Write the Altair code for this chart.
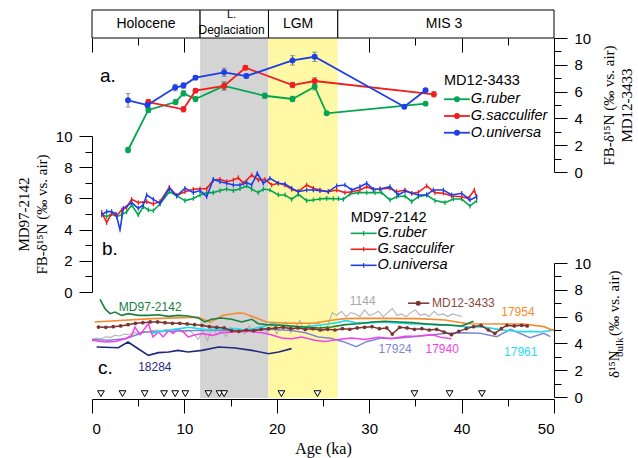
import altair as alt
import pandas as pd

# ---------------- data ----------------
PERIOD_NAME = ["Holocene", "LGM", "MIS 3"]
PERIOD_MID = [5.85, 22.3, 38.1]
DEGLAC_LINES = ["L.", "Deglaciation"]
DEGLAC_MID = 15.1
PERIOD_START = [0.0, 11.7, 19.1, 26.6]
PERIOD_END = [11.7, 19.1, 26.6, 50.0]

BAND_START = [11.7, 19.1]
BAND_END = [19.1, 26.6]
BAND_FILL = ["#D4D4D4", "#FFF9A6"]

# Panel a: MD12-3433 foraminifera-bound d15N
A_RUBER_AGE = [3.9, 6.1, 9.05, 9.9, 11.2, 14.3, 18.7, 21.7, 24.1, 25.4, 36.1]
A_RUBER_VAL = [1.64, 4.63, 5.22, 5.87, 5.45, 6.42, 5.69, 5.45, 6.37, 4.38, 5.10]
A_RUBER_ERR = [0.2, 0.2, 0.2, 0.2, 0.2, 0.3, 0.2, 0.2, 0.25, 0.1, 0.1]
A_SACC_AGE = [6.1, 9.9, 11.2, 14.3, 16.6, 21.7, 24.1, 37.0]
A_SACC_VAL = [5.22, 4.68, 6.07, 6.42, 7.78, 6.49, 6.79, 5.80]
A_SACC_ERR = [0.2, 0.2, 0.15, 0.3, 0.15, 0.2, 0.25, 0.2]
A_UNIV_AGE = [3.9, 6.0, 9.0, 9.9, 11.2, 14.3, 16.7, 21.7, 24.1, 33.8, 36.1]
A_UNIV_VAL = [5.35, 5.00, 6.30, 6.45, 7.04, 7.44, 7.16, 8.33, 8.60, 4.87, 6.10]
A_UNIV_ERR = [0.5, 0.2, 0.25, 0.2, 0.15, 0.3, 0.15, 0.35, 0.35, 0.1, 0.1]

# Panel b: MD97-2142 foraminifera-bound d15N
B_RUBER_AGE = [1.05, 1.59, 2.13, 2.67, 3.21, 3.75, 4.29, 5.01, 5.55, 6.10, 6.64, 7.36, 8.37, 9.16,
               10.06, 10.97, 11.69, 12.41, 13.13, 13.85, 14.57, 15.30, 16.02, 16.74, 17.28, 18.00,
               18.54, 19.26, 20.17, 20.89, 21.61, 22.33, 23.23, 23.95, 24.67, 25.40, 26.12, 26.66,
               27.20, 27.92, 28.82, 29.73, 30.63, 31.35, 32.25, 32.97, 33.88, 34.60, 35.32, 36.22,
               37.12, 38.20, 39.11, 40.01, 40.91, 41.63]
B_RUBER_VAL = [4.98, 4.83, 5.00, 4.83, 4.96, 5.13, 5.58, 4.94, 5.47, 5.26, 5.21, 5.64, 6.43, 6.18,
               5.86, 6.00, 6.22, 6.37, 6.37, 6.50, 6.60, 6.50, 6.62, 6.80, 6.60, 6.37,
               6.60, 6.54, 6.22, 6.22, 5.94, 6.26, 5.86, 5.90, 5.96, 6.00, 5.98, 5.98,
               5.94, 6.28, 6.37, 6.37, 6.37, 6.37, 5.90, 6.11, 6.15, 5.79, 6.11, 6.22,
               5.86, 5.73, 5.96, 5.96, 5.51, 5.86]
B_SACC_AGE = [1.05, 1.59, 2.13, 2.67, 3.21, 3.75, 4.29, 5.01, 5.92, 6.64, 7.36, 8.37, 9.16, 10.06,
              10.97, 11.69, 12.41, 13.13, 13.85, 14.57, 15.30, 15.84, 16.38, 17.28, 18.00, 18.72,
              19.44, 20.17, 20.89, 21.61, 22.33, 23.23, 23.95, 24.67, 25.58, 26.48, 27.38, 28.10,
              29.00, 29.73, 30.45, 31.17, 32.25, 32.97, 33.88, 34.60, 35.32, 36.22, 37.12, 38.03,
              38.93, 40.01, 40.73, 41.38, 41.63]
B_SACC_VAL = [5.11, 4.45, 5.04, 4.89, 5.26, 5.43, 5.94, 5.73, 5.79, 5.64, 5.79, 6.71, 6.18, 6.43,
              6.58, 6.62, 6.62, 7.18, 7.22, 7.07, 7.18, 7.33, 6.97, 7.50, 7.18, 7.22,
              6.86, 6.97, 6.86, 6.58, 6.43, 6.86, 6.65, 6.54, 6.43, 6.54, 6.37, 6.43,
              6.54, 6.75, 6.58, 6.60, 6.65, 6.43, 6.54, 6.33, 6.39, 6.80, 6.37, 6.33,
              6.15, 6.11, 6.00, 6.54, 6.07]
B_UNIV_AGE = [1.05, 1.59, 2.13, 2.60, 3.03, 3.39, 4.29, 5.01, 5.55, 5.92, 6.64, 7.36, 8.37, 9.16,
              10.06, 10.97, 11.69, 12.41, 13.13, 13.85, 14.57, 15.30, 16.02, 16.74, 17.28, 17.89,
              18.54, 19.26, 20.17, 20.89, 21.61, 22.33, 23.23, 23.95, 24.67, 25.58, 26.48, 27.38,
              28.10, 29.00, 29.73, 30.45, 31.17, 32.25, 33.15, 33.88, 34.60, 35.32, 36.22, 36.94,
              38.03, 38.93, 40.01, 40.91, 41.63]
B_UNIV_VAL = [4.94, 5.15, 5.15, 5.00, 3.98, 5.36, 5.73, 5.36, 5.58, 6.22, 5.94, 5.68, 6.65, 6.15,
              6.65, 6.37, 6.50, 6.11, 7.22, 7.07, 6.97, 6.86, 6.86, 7.01, 6.86, 7.61,
              6.97, 7.29, 6.97, 6.92, 6.65, 6.43, 6.54, 6.54, 6.50, 6.43, 6.80, 6.86,
              6.54, 6.75, 6.97, 6.58, 6.60, 6.75, 6.22, 6.47, 6.33, 6.22, 6.22, 6.54,
              6.54, 6.22, 6.33, 5.90, 6.11]

# Panel c: bulk sediment d15N records
C_1144_AGE = [0.0, 0.5, 1.0, 1.5, 2.0, 2.5, 3.0, 3.5, 4.0, 4.5, 5.0, 5.5, 6.0, 6.5, 7.0,
              7.5, 8.0, 8.5, 9.0, 9.5, 10.0, 10.5, 11.0, 11.5, 12.0, 12.5, 13.0, 13.5, 14.0,
              14.5, 15.0, 15.5, 16.0, 16.5, 17.0, 17.5, 18.0, 18.5, 19.0, 19.5, 20.0, 20.5,
              21.0, 21.5, 22.0, 22.5, 23.0, 23.5, 24.0, 24.5, 25.0, 25.5, 26.0, 26.5, 27.0,
              27.5, 28.0, 28.5, 29.0, 29.5, 30.0, 30.5, 31.0, 31.5, 32.0, 32.5, 33.0, 33.5,
              34.0, 34.5, 35.0, 35.5, 36.0, 36.5, 37.0, 37.5, 38.0, 38.5, 39.0, 39.5, 40.0]
C_1144_VAL = [4.30, 4.40, 4.35, 4.50, 4.45, 4.60, 4.55, 4.70, 4.65, 4.80, 4.75, 4.90, 4.85,
              4.95, 5.00, 4.90, 5.05, 4.95, 5.10, 4.90, 4.80, 5.00, 4.70, 4.30, 4.90, 4.20,
              5.30, 4.60, 5.00, 4.50, 5.20, 4.90, 5.10, 4.70, 5.30, 4.90, 5.00, 5.20, 4.80,
              5.50, 4.70, 5.30, 5.60, 4.80, 5.20, 5.70, 4.90, 5.40, 5.00, 5.60, 4.90, 5.30,
              6.30, 6.10, 6.40, 6.00, 6.30, 6.20, 6.00, 6.50, 6.10, 6.20, 6.40, 6.00, 6.30,
              6.60, 6.10, 6.20, 6.00, 6.30, 6.50, 6.10, 6.20, 6.00, 6.40, 6.10, 6.20, 6.00,
              6.20, 6.10, 6.00]
C_17924_AGE = [0.0, 1.8, 3.6, 5.7, 8.3, 11.2, 13.7, 16.2, 19.1, 21.6, 23.1, 24.5, 25.8, 27.2,
               28.6, 29.7, 31.2, 33.0, 34.8, 36.6, 38.4, 40.2, 42.0, 43.8, 45.3, 47.4, 48.9, 49.6]
C_17924_VAL = [4.30, 4.23, 4.35, 4.85, 4.90, 4.97, 4.97, 4.97, 5.05, 4.97, 4.80, 4.48, 4.38, 4.13,
               3.75, 4.13, 4.38, 4.38, 4.50, 4.63, 4.75, 4.80, 4.75, 4.50, 5.05, 4.43, 4.75, 4.50]
C_17940_AGE = [0.0, 1.4, 2.5, 3.6, 4.3, 4.65, 5.2, 5.7, 6.1, 6.6, 7.2, 7.7, 8.3, 8.8, 9.3, 9.9,
               10.4, 11.2, 11.9, 13.0, 14.0, 15.5, 16.9, 18.4, 19.4, 20.5, 21.6, 22.7, 24.1,
               25.2, 26.7, 28.1, 29.5, 31.0, 32.4, 33.9, 35.3, 36.8, 37.8, 38.9]
C_17940_VAL = [4.23, 4.10, 4.15, 4.35, 4.60, 5.22, 4.65, 5.10, 5.47, 4.48, 4.85, 4.48, 4.97, 4.73,
               5.10, 4.85, 4.48, 4.65, 4.73, 4.60, 4.80, 4.85, 4.90, 4.80, 4.65, 4.40, 4.35, 4.48,
               4.23, 4.15, 4.30, 4.40, 4.30, 4.45, 4.35, 4.53, 4.55, 4.65, 4.45, 4.35]
C_18284_AGE = [0.5, 2.85, 3.9, 5.0, 6.1, 7.2, 8.3, 9.3, 10.4, 11.9, 13.7, 15.5, 17.3, 19.1, 20.2, 21.6]
C_18284_VAL = [3.73, 3.68, 4.10, 3.60, 3.11, 3.31, 3.36, 3.48, 3.36, 3.48, 3.73, 3.66, 3.48, 3.23, 3.36, 3.61]
C_17961_AGE = [6.5, 7.5, 8.5, 9.5, 10.5, 11.5, 12.5, 13.5, 14.5, 15.5, 16.5, 17.5, 18.5, 19.5,
               20.5, 21.5, 22.5, 23.5, 24.5, 25.5, 26.5, 27.5, 28.5, 29.5, 30.5, 31.5, 32.5,
               33.5, 34.5, 35.5, 36.5, 37.5, 38.5, 39.5, 40.5, 41.5, 42.5, 43.5, 44.5, 45.5,
               46.5, 47.5, 48.5, 49.5, 50.0]
C_17961_VAL = [4.75, 4.90, 5.00, 5.10, 5.20, 5.10, 5.00, 5.05, 5.10, 5.10, 5.00, 5.10, 5.25, 5.50,
               5.35, 5.30, 5.15, 5.30, 5.35, 5.45, 5.55, 5.70, 5.55, 5.50, 5.55, 5.60, 5.55,
               5.50, 5.45, 5.45, 5.40, 5.38, 5.37, 5.30, 5.25, 5.22, 5.20, 5.10, 5.00, 4.92,
               4.87, 4.90, 4.85, 4.95, 5.00]
C_17954_AGE = [0.3, 6.5, 11.5, 12.8, 14.2, 15.8, 16.4, 18.9, 21.1, 24.0, 26.1, 27.4, 29.0,
               31.2, 35.3, 38.2, 40.7, 44.5, 46.7, 48.9, 50.0]
C_17954_VAL = [5.60, 5.85, 5.95, 5.58, 6.10, 6.27, 6.25, 5.60, 5.50, 5.50, 5.75, 5.85, 5.87,
               5.87, 5.85, 5.75, 5.47, 5.45, 5.45, 5.25, 4.95]
C_MD97_AGE = [0.87, 1.41, 1.95, 2.49, 3.21, 3.93, 5.01, 6.10, 7.18, 8.26, 9.34, 10.4, 11.5, 12.2,
              12.95, 14.0, 15.1, 16.2, 17.3, 18.0, 18.9, 20.2, 21.6, 23.05, 24.5, 25.9, 27.4,
              28.8, 30.3, 31.7, 33.2, 34.6, 36.0, 37.5, 38.9, 40.0, 41.3]
C_MD97_VAL = [7.29, 6.59, 6.22, 6.34, 6.09, 6.22, 6.09, 6.09, 6.14, 6.02, 6.09, 6.04, 5.90, 5.60,
              5.80, 5.90, 5.80, 5.60, 5.80, 5.47, 5.40, 5.35, 5.30, 5.22, 5.15, 5.22, 5.40,
              5.47, 5.60, 5.65, 5.60, 5.55, 5.47, 5.40, 5.35, 5.30, 5.65]
C_MD12_AGE = [0.7, 1.5, 2.3, 3.1, 3.9, 4.7, 5.5, 6.3, 7.1, 7.9, 8.7, 9.5, 10.3, 11.1, 11.9, 12.7,
              13.5, 14.3, 15.1, 15.9, 16.7, 17.5, 18.3, 19.1, 19.9, 20.7, 21.5, 22.3, 23.1,
              23.9, 24.7, 25.5, 26.3, 27.1, 27.9, 28.7, 29.5, 30.3, 31.1, 31.9, 32.5, 33.3,
              34.1, 34.9, 35.7, 36.5, 37.3, 38.1, 38.9, 39.7, 40.5, 41.3, 42.1, 42.9, 43.6,
              44.3, 44.9, 45.7, 46.5, 47.1]
C_MD12_VAL = [5.22, 5.20, 5.25, 5.30, 5.40, 5.50, 5.55, 5.60, 5.60, 5.55, 5.50, 5.50, 5.45, 5.40,
              5.35, 5.25, 5.20, 5.15, 4.95, 4.90, 5.00, 4.95, 5.05, 5.10, 5.15, 5.20, 5.10,
              5.15, 5.05, 5.10, 5.00, 5.05, 5.00, 5.10, 5.05, 5.15, 5.20, 5.25, 5.10, 5.15,
              4.70, 5.20, 5.15, 5.05, 5.10, 5.00, 5.05, 4.85, 4.65, 4.90, 5.10, 5.25, 5.35,
              5.00, 4.75, 5.10, 5.35, 5.30, 5.35, 5.30]

# age-model tie points (triangles)
TRI_AGE = [0.97, 3.3, 5.7, 7.8, 9.0, 10.1, 12.6, 13.8, 14.3, 20.5, 24.4, 34.9, 38.7, 42.2]

# labels
C_LABEL_TEXT = ["MD97-2142", "1144", "17954", "17924", "17940", "17961", "18284"]
C_LABEL_AGE = [6.3, 29.3, 46.1, 32.8, 37.9, 46.4, 6.8]
C_LABEL_VAL = [6.72, 7.16, 6.34, 3.58, 3.58, 3.36, 2.24]
C_LABEL_COLOR = ["#17803D", "#A8A8A8", "#F58A2E", "#7F86D4", "#F53FE8", "#1FDDF0", "#1F2A7A"]

Y_MAJOR = [0, 2, 4, 6, 8, 10]
Y_MINOR = [1, 3, 5, 7, 9]
X_MAJOR = [0, 10, 20, 30, 40, 50]
X_MINOR = [5, 15, 25, 35, 45]

# ---------------- styling ----------------
SANS = "Liberation Sans, Arial, Helvetica, sans-serif"
SERIF = "Liberation Serif, Times New Roman, serif"
GREEN, RED, BLUE = "#00A650", "#F21D1D", "#1F3FE6"
LEG_FS = 14.5

W, H = 462, 389
X_SCALE = alt.Scale(domain=[0, 50], nice=False, zero=False)
YA = alt.Scale(domain=[0, 10], range=[162, 28], nice=False, zero=False)
YB = alt.Scale(domain=[0, 10], range=[282, 126], nice=False, zero=False)
YC = alt.Scale(domain=[0, 10], range=[387, 253], nice=False, zero=False)


def xe(field="age"):
    return alt.X(f"{field}:Q", scale=X_SCALE, axis=None)


def ye(scale, field="val"):
    return alt.Y(f"{field}:Q", scale=scale, axis=None)


def line(age, val, color, scale, width=1.6, opacity=1.0):
    df = pd.DataFrame({"age": age, "val": val})
    return alt.Chart(df).mark_line(color=color, strokeWidth=width, opacity=opacity).encode(
        x=xe(), y=ye(scale))


def dots(age, val, color, scale, size=35):
    df = pd.DataFrame({"age": age, "val": val})
    return alt.Chart(df).mark_circle(color=color, size=size, opacity=1).encode(x=xe(), y=ye(scale))


def plus(age, val, color, scale):
    df = pd.DataFrame({"age": age, "val": val})
    return alt.Chart(df).mark_point(shape="M0,-1L0,1", color=color, size=22, strokeWidth=1.2,
                                    filled=False, opacity=1).encode(x=xe(), y=ye(scale))


def errbars(age, val, err, scale):
    df = pd.DataFrame({"age": age, "lo": [v - e for v, e in zip(val, err)],
                       "hi": [v + e for v, e in zip(val, err)]})
    return alt.Chart(df).mark_errorbar(ticks=True, color="#6E6E6E").encode(
        x=xe(), y=alt.Y("lo:Q", scale=scale, axis=None), y2="hi:Q")


def y_axes(scale, orient, title, title_pad):
    major_ax = alt.Axis(orient=orient, values=Y_MAJOR, tickSize=13, tickColor="black",
                        domainColor="black", labelFont=SANS, labelFontSize=15, labelColor="black",
                        labelPadding=7, grid=False, title=title, titleFont=SERIF, titleFontSize=15,
                        titleFontWeight="normal", titleColor="black", titleAngle=270,
                        titlePadding=title_pad, titleLineHeight=18)
    minor_ax = alt.Axis(orient=orient, values=Y_MINOR, tickSize=7, tickColor="black",
                        domain=False, labels=False, grid=False, title="")
    major = alt.Chart(pd.DataFrame({"age": [0.0] * len(Y_MAJOR), "val": Y_MAJOR})).mark_point(
        opacity=0).encode(x=xe(), y=alt.Y("val:Q", scale=scale, axis=major_ax))
    minor = alt.Chart(pd.DataFrame({"age": [0.0] * len(Y_MINOR), "val": Y_MINOR})).mark_point(
        opacity=0).encode(x=xe(), y=alt.Y("val:Q", scale=scale, axis=minor_ax))
    return [major, minor]


def texts(df, scale, size, italic=False, align="left", font=SANS):
    kw = dict(align=align, baseline="middle", font=font, fontSize=size)
    if italic:
        kw["fontStyle"] = "italic"
    return alt.Chart(df).mark_text(**kw).encode(
        x=xe(), y=ye(scale), text="label:N", color=alt.Color("color:N", scale=None))


# ---------------- background ----------------
bands = alt.Chart(pd.DataFrame({"s": BAND_START, "e": BAND_END, "c": BAND_FILL})).mark_rect(
    opacity=1).encode(x=alt.X("s:Q", scale=X_SCALE, axis=None), x2="e:Q",
                      y=alt.value(28), y2=alt.value(388), color=alt.Color("c:N", scale=None))

header_box = alt.Chart(pd.DataFrame({"s": PERIOD_START, "e": PERIOD_END})).mark_rect(
    fill="white", stroke="black", strokeWidth=1).encode(
    x=alt.X("s:Q", scale=X_SCALE, axis=None), x2="e:Q", y=alt.value(0), y2=alt.value(28))
header_txt = alt.Chart(pd.DataFrame({"age": PERIOD_MID, "label": PERIOD_NAME})).mark_text(
    font=SANS, fontSize=14, baseline="middle", align="center", color="black").encode(
    x=xe(), y=alt.value(14), text="label:N")
deg_txt1 = alt.Chart(pd.DataFrame({"age": [DEGLAC_MID], "label": [DEGLAC_LINES[0]]})).mark_text(
    font=SANS, fontSize=11, baseline="middle", align="center", color="black").encode(
    x=xe(), y=alt.value(4.5), text="label:N")
deg_txt2 = alt.Chart(pd.DataFrame({"age": [DEGLAC_MID], "label": [DEGLAC_LINES[1]]})).mark_text(
    font=SANS, fontSize=12, baseline="middle", align="center", color="black").encode(
    x=xe(), y=alt.value(20), text="label:N")

# ---------------- panel a ----------------
panel_a = alt.layer(
    *y_axes(YA, "right", ["FB-δ¹⁵N (‰ vs. air)", "MD12-3433"], 8),
    errbars(A_RUBER_AGE, A_RUBER_VAL, A_RUBER_ERR, YA),
    errbars(A_SACC_AGE, A_SACC_VAL, A_SACC_ERR, YA),
    errbars(A_UNIV_AGE, A_UNIV_VAL, A_UNIV_ERR, YA),
    line(A_RUBER_AGE, A_RUBER_VAL, GREEN, YA, 1.8), dots(A_RUBER_AGE, A_RUBER_VAL, GREEN, YA),
    line(A_SACC_AGE, A_SACC_VAL, RED, YA, 1.8), dots(A_SACC_AGE, A_SACC_VAL, RED, YA),
    line(A_UNIV_AGE, A_UNIV_VAL, BLUE, YA, 1.8), dots(A_UNIV_AGE, A_UNIV_VAL, BLUE, YA),
    # legend
    texts(pd.DataFrame({"age": [38.1], "val": [6.81], "label": ["MD12-3433"], "color": ["black"]}), YA, LEG_FS),
    texts(pd.DataFrame({"age": [41.0, 41.0, 41.0], "val": [5.43, 4.18, 2.93],
                        "label": ["G.ruber", "G.sacculifer", "O.universa"],
                        "color": ["black"] * 3}), YA, LEG_FS, italic=True),
    line([38.1, 40.9], [5.43, 5.43], GREEN, YA, 1.8), dots([39.5], [5.43], GREEN, YA),
    line([38.1, 40.9], [4.18, 4.18], RED, YA, 1.8), dots([39.5], [4.18], RED, YA),
    line([38.1, 40.9], [2.93, 2.93], BLUE, YA, 1.8), dots([39.5], [2.93], BLUE, YA),
    texts(pd.DataFrame({"age": [0.87], "val": [7.13], "label": ["a."], "color": ["black"]}), YA, 19),
).resolve_axis(y="independent")

# ---------------- panel b ----------------
panel_b = alt.layer(
    *y_axes(YB, "left", ["MD97-2142", "FB-δ¹⁵N (‰ vs. air)"], 6),
    line(B_RUBER_AGE, B_RUBER_VAL, GREEN, YB, 1.6), plus(B_RUBER_AGE, B_RUBER_VAL, GREEN, YB),
    line(B_SACC_AGE, B_SACC_VAL, RED, YB, 1.6), plus(B_SACC_AGE, B_SACC_VAL, RED, YB),
    line(B_UNIV_AGE, B_UNIV_VAL, BLUE, YB, 1.6), plus(B_UNIV_AGE, B_UNIV_VAL, BLUE, YB),
    texts(pd.DataFrame({"age": [28.0], "val": [4.75], "label": ["MD97-2142"], "color": ["black"]}), YB, LEG_FS),
    texts(pd.DataFrame({"age": [30.9, 30.9, 30.9], "val": [3.76, 2.74, 1.71],
                        "label": ["G.ruber", "G.sacculifer", "O.universa"],
                        "color": ["black"] * 3}), YB, LEG_FS, italic=True),
    line([28.0, 30.8], [3.76, 3.76], GREEN, YB, 1.6), plus([29.4], [3.76], GREEN, YB),
    line([28.0, 30.8], [2.74, 2.74], RED, YB, 1.6), plus([29.4], [2.74], RED, YB),
    line([28.0, 30.8], [1.71, 1.71], BLUE, YB, 1.6), plus([29.4], [1.71], BLUE, YB),
    texts(pd.DataFrame({"age": [1.08], "val": [2.76], "label": ["b."], "color": ["black"]}), YB, 19),
).resolve_axis(y="independent")

# ---------------- panel c ----------------
tri = alt.Chart(pd.DataFrame({"age": TRI_AGE, "val": [0.25] * len(TRI_AGE)})).mark_point(
    shape="triangle-down", filled=True, fill="white", stroke="black", strokeWidth=1,
    size=45, opacity=1).encode(x=xe(), y=ye(YC))


def rot_text(label, px, py, size):
    return alt.Chart(pd.DataFrame({"label": [label]})).mark_text(
        angle=270, align="left", baseline="alphabetic", font=SERIF, color="black",
        fontSize=size).encode(x=alt.value(px), y=alt.value(py), text="label:N")


title_c = [rot_text("δ¹⁵N", 527, 368, 15), rot_text("bulk", 531, 347, 11),
           rot_text("(‰ vs. air)", 527, 326, 15)]

panel_c = alt.layer(
    *y_axes(YC, "right", "", 8),
    line(C_1144_AGE, C_1144_VAL, "#B3B3B3", YC, 1.1),
    line(C_17924_AGE, C_17924_VAL, "#7F86D4", YC, 1.5),
    line(C_17940_AGE, C_17940_VAL, "#F53FE8", YC, 1.5),
    line(C_18284_AGE, C_18284_VAL, "#1F2A7A", YC, 1.6),
    line(C_17961_AGE, C_17961_VAL, "#1FDDF0", YC, 1.6),
    line(C_17954_AGE, C_17954_VAL, "#F58A2E", YC, 1.6),
    line(C_MD97_AGE, C_MD97_VAL, "#17803D", YC, 1.6),
    line(C_MD12_AGE, C_MD12_VAL, "#7B3530", YC, 1.5),
    dots(C_MD12_AGE, C_MD12_VAL, "#7B3530", YC, 14),
    texts(pd.DataFrame({"age": C_LABEL_AGE, "val": C_LABEL_VAL, "label": C_LABEL_TEXT,
                        "color": C_LABEL_COLOR}), YC, 12, align="center"),
    line([34.2, 36.5], [7.0, 7.0], "#7B3530", YC, 1.5), dots([35.3], [7.0], "#7B3530", YC, 25),
    texts(pd.DataFrame({"age": [36.8], "val": [7.0], "label": ["MD12-3433"],
                        "color": ["#8A4A44"]}), YC, 12),
    texts(pd.DataFrame({"age": [0.65], "val": [2.2], "label": ["c."], "color": ["black"]}), YC, 19),
    tri,
).resolve_axis(y="independent")


# ---------------- x axes ----------------
def x_axis(values, size, offset, labels, domain, title):
    kw = dict(orient="bottom", values=values, tickSize=size, tickColor="black", offset=offset,
              labels=labels, domain=domain, grid=False, title=title)
    if labels:
        kw.update(labelFont=SANS, labelFontSize=15, labelColor="black", labelPadding=8)
    if domain:
        kw.update(domainColor="black")
    if title:
        kw.update(titleFont=SERIF, titleFontSize=16, titleFontWeight="normal", titleColor="black",
                  titlePadding=4)
    return alt.Chart(pd.DataFrame({"age": values})).mark_point(opacity=0).encode(
        x=alt.X("age:Q", scale=X_SCALE, axis=alt.Axis(**kw)), y=alt.value(0))


xa_major = x_axis(X_MAJOR, 14, 0, True, True, "Age (ka)")
xa_minor = x_axis(X_MINOR, 7, 0, False, False, "")
xt_major = x_axis(X_MAJOR, 14, -(H - 28), False, False, "")
xt_minor = x_axis(X_MINOR, 7, -(H - 28), False, False, "")

chart = alt.layer(
    bands, header_box, header_txt, deg_txt1, deg_txt2, panel_a, panel_b, panel_c, *title_c,
    xa_major, xa_minor, xt_major, xt_minor,
).resolve_scale(y="independent", x="shared").resolve_axis(x="independent", y="independent").properties(
    width=W, height=H, autosize=alt.AutoSizeParams(type="none"),
    padding={"left": 92, "top": 10, "right": 84, "bottom": 59},
).configure_view(stroke=None)

chart.save("out.html", embed_options={"renderer": "svg", "actions": False})
